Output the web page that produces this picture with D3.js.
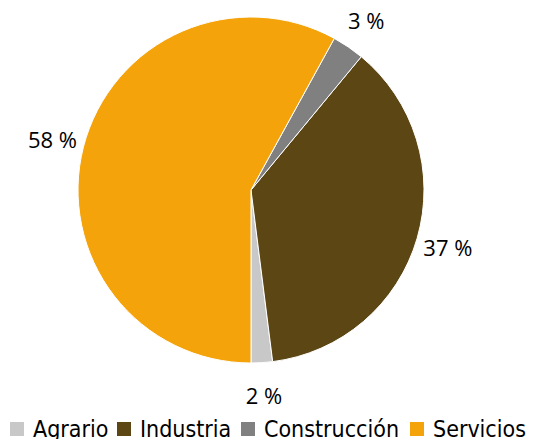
<!DOCTYPE html>
<html>
<head>
<meta charset="utf-8">
<script src="https://cdn.jsdelivr.net/npm/d3@7"></script>
<style>
  html, body { margin: 0; padding: 0; background: #fff; }
  svg { display: block; }
</style>
</head>
<body>
<svg id="chart" width="536" height="439"></svg>
<script>
// Employment share by sector
const sectors = ["Agrario", "Industria", "Construcción", "Servicios"];
const shares = [2, 37, 3, 58];
const colors = ["#c8c8c8", "#5c4714", "#808080", "#f5a30b"];

const W = 536, H = 439;
const cx = 251, cy = 190, R = 173;

const svg = d3.select("#chart");

const color = d3.scaleOrdinal().domain(sectors).range(colors);

// Slices run counter-clockwise starting at six o'clock
const pie = d3.pie().sort(null).value(d => d.value)
  .startAngle(Math.PI).endAngle(-Math.PI);
const data = sectors.map((s, i) => ({ name: s, value: shares[i] }));
const arcs = pie(data);

const arc = d3.arc().innerRadius(0).outerRadius(R);
const labelArc = d3.arc().innerRadius(R + 32).outerRadius(R + 32);

const g = svg.append("g").attr("transform", `translate(${cx},${cy})`);

g.selectAll("path.slice")
  .data(arcs)
  .join("path")
  .attr("class", "slice")
  .attr("d", arc)
  .attr("fill", d => color(d.data.name))
  .attr("stroke", "#fff")
  .attr("stroke-width", 1);

g.selectAll("text.lbl")
  .data(arcs)
  .join("text")
  .attr("class", "lbl")
  .attr("transform", d => {
    const [x, y] = labelArc.centroid(d);
    return `translate(${x},${y})`;
  })
  .attr("text-anchor", "middle")
  .attr("dominant-baseline", "central")
  .attr("font-family", "'Open Sans', sans-serif")
  .attr("font-size", 22)
  .attr("fill", "#000")
  .text(d => d.data.value + " %");

// Legend along the bottom edge
const legend = svg.append("g");
const legendX = [10, 117, 241, 410];
const item = legend.selectAll("g.item")
  .data(sectors)
  .join("g")
  .attr("class", "item")
  .attr("transform", (d, i) => `translate(${legendX[i]},0)`);

item.append("rect")
  .attr("x", 0).attr("y", 422)
  .attr("width", 14).attr("height", 14)
  .attr("fill", d => color(d));

item.append("text")
  .attr("x", 23).attr("y", 437)
  .attr("font-family", "'DejaVu Sans Condensed', 'DejaVu Sans', sans-serif")
  .attr("font-size", 23)
  .attr("fill", "#000")
  .text(d => d);
</script>
</body>
</html>
